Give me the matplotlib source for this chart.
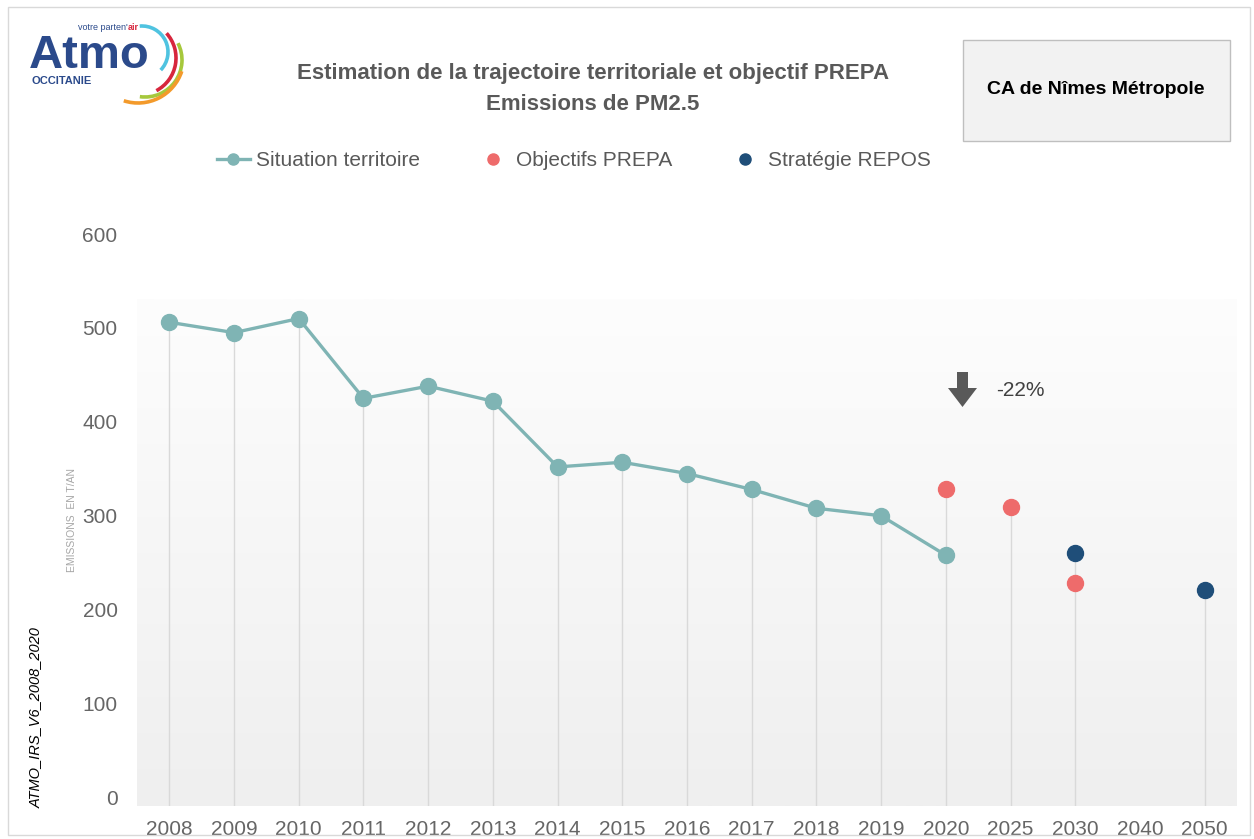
import matplotlib
matplotlib.use("Agg")
import matplotlib.pyplot as plt
import numpy as np
from matplotlib.colors import LinearSegmentedColormap
from matplotlib.lines import Line2D
from matplotlib.patches import Rectangle, Arc, Polygon

plt.rcParams['font.family'] = ['Liberation Sans', 'DejaVu Sans']

# data
years = ['2008', '2009', '2010', '2011', '2012', '2013', '2014', '2015', '2016',
         '2017', '2018', '2019', '2020', '2025', '2030', '2040', '2050']
situation = [506, 495, 510, 425, 438, 422, 352, 357, 345, 328, 308, 300, 258]
prepa_years = ['2020', '2025', '2030']
prepa = [329, 309, 228]
repos_years = ['2030', '2050']
repos = [260, 221]

W, H = 1254, 839
fig = plt.figure(figsize=(W / 100, H / 100), dpi=100)

def fx(px):
    return px / W

def fy(py):
    return 1 - py / H

grey = '#595959'
teal = '#7fb4b4'
red = '#ee6b6b'
navy = '#1f4e79'

# outer frame
fig.patches.append(Rectangle((fx(8), fy(835)), fx(1250) - fx(8), fy(7) - fy(835),
                             transform=fig.transFigure, fill=False,
                             edgecolor='#d9d9d9', lw=1))

ax = fig.add_axes([fx(137), fy(806), fx(1237) - fx(137), fy(234) - fy(806)])
ymin, ymax = -9, 600
ax.set_xlim(-0.5, len(years) - 0.5)
ax.set_ylim(ymin, ymax)

# gradient background
cmap = LinearSegmentedColormap.from_list('bg', ['#efefef', '#fdfdfd'])
grad = np.linspace(0, 1, 256)[:, None]
ax.imshow(grad, extent=(-0.5, len(years) - 0.5, ymin, 530), origin='lower',
          cmap=cmap, aspect='auto', zorder=0)

xpos = {y: i for i, y in enumerate(years)}

# drop lines
tops = {}
for i, v in enumerate(situation):
    tops[years[i]] = max(tops.get(years[i], 0), v)
for y, v in zip(prepa_years, prepa):
    tops[y] = max(tops.get(y, 0), v)
for y, v in zip(repos_years, repos):
    tops[y] = max(tops.get(y, 0), v)
for y, v in tops.items():
    ax.plot([xpos[y], xpos[y]], [ymin, v], color='#d9d9d9', lw=1, zorder=1)

ax.plot(range(len(situation)), situation, color=teal, lw=2.4, marker='o',
        markersize=11.5, zorder=3)
ax.plot([xpos[y] for y in prepa_years], prepa, 'o', color=red,
        markersize=11.5, zorder=4)
ax.plot([xpos[y] for y in repos_years], repos, 'o', color=navy,
        markersize=11.5, zorder=4)

ax.set_xticks(range(len(years)))
ax.set_xticklabels(years)
ax.set_yticks(range(0, 601, 100))
ax.tick_params(axis='both', length=0, labelsize=15, labelcolor='#666666')
ax.tick_params(axis='y', pad=14)
ax.tick_params(axis='x', pad=10)
for s in ax.spines.values():
    s.set_visible(False)
ax.set_facecolor('none')

# -22% arrow
ax_pts = [(957, 372), (968, 372), (968, 388), (977, 388), (962.5, 407),
          (948, 388), (957, 388)]
fig.patches.append(Polygon([(fx(a), fy(b)) for a, b in ax_pts], closed=True,
                           transform=fig.transFigure, facecolor=grey,
                           edgecolor='none'))
fig.text(fx(996), fy(390), '-22%', fontsize=15, color='#404040',
         ha='left', va='center')

# axis labels
fig.text(fx(72), fy(520), 'EMISSIONS  EN T/AN', fontsize=7.5, color='#a6a6a6',
         rotation=90, ha='center', va='center')
fig.text(fx(36), fy(718), 'ATMO_IRS_V6_2008_2020', fontsize=10.5, color='black',
         style='italic', rotation=90, ha='center', va='center')

# title
fig.text(fx(593), fy(73), 'Estimation de la trajectoire territoriale et objectif PREPA',
         fontsize=16, fontweight='bold', color=grey, ha='center', va='center')
fig.text(fx(593), fy(105), 'Emissions de PM2.5',
         fontsize=16, fontweight='bold', color=grey, ha='center', va='center')

# territory box
fig.patches.append(Rectangle((fx(963), fy(141)), fx(1230) - fx(963), fy(40) - fy(141),
                             transform=fig.transFigure, facecolor='#f2f2f2',
                             edgecolor='#bfbfbf', lw=1))
fig.text(fx(1096), fy(90), 'CA de Nîmes Métropole', fontsize=14,
         fontweight='bold', color='black', ha='center', va='center')

# legend
handles = [
    Line2D([], [], color=teal, lw=2.4, marker='o', markersize=8),
    Line2D([], [], color=red, lw=0, marker='o', markersize=8),
    Line2D([], [], color=navy, lw=0, marker='o', markersize=8),
]
leg = fig.legend(handles, ['Situation territoire', 'Objectifs PREPA', 'Stratégie REPOS'],
                 loc='center', bbox_to_anchor=(fx(574), fy(161)), ncol=3,
                 frameon=False, fontsize=15, handlelength=1.6, handletextpad=0.3,
                 columnspacing=2.7)
for t in leg.get_texts():
    t.set_color(grey)

# logo
lax = fig.add_axes([fx(20), fy(112), fx(200) - fx(20), fy(17) - fy(112)])
lax.set_xlim(20, 200)
lax.set_ylim(112, 17)
lax.axis('off')
lax.text(29, 56, 'Atmo', fontsize=34, fontweight='bold', color='#2b4a8b',
         ha='left', va='center')
t1 = lax.text(78, 27, "votre parten'", fontsize=6.5, color='#2b4a8b',
              ha='left', va='center')
lax.annotate('air', xy=(1, 0.5), xycoords=t1, fontsize=6.5, color='#d7263d',
             fontweight='bold', ha='left', va='center')
lax.text(32, 81, 'OCCITANIE', fontsize=8, fontweight='bold', color='#2b4a8b',
         ha='left', va='center')
lax.add_patch(Arc((142, 52), 52, 52, theta1=-95, theta2=44, color='#4fc3e0', lw=2.6))
lax.add_patch(Arc((139, 58), 74, 74, theta1=-42, theta2=62, color='#d7263d', lw=2.6))
lax.add_patch(Arc((145, 60), 74, 74, theta1=-27, theta2=98, color='#a6c83c', lw=2.6))
lax.add_patch(Arc((138, 57), 92, 92, theta1=18, theta2=108, color='#f39a2b', lw=2.6))

fig.savefig('out.png', dpi=100)
